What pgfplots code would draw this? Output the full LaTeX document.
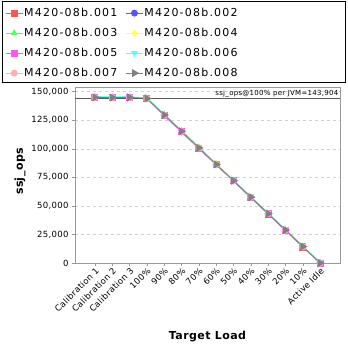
\documentclass[border=0pt]{standalone}
\usepackage{fontspec}
\setmainfont{DejaVu Sans}[LetterSpace=4]
\newfontfamily\legfont{DejaVu Sans}[LetterSpace=11]
\usepackage{pgfplots}
\pgfplotsset{compat=1.18}
\definecolor{c1}{HTML}{FF5555}
\definecolor{c2}{HTML}{5555FF}
\definecolor{c3}{HTML}{55FF55}
\definecolor{c4}{HTML}{FFFF55}
\definecolor{c5}{HTML}{FF55FF}
\definecolor{c6}{HTML}{55FFFF}
\definecolor{c7}{HTML}{FFAFAF}
\definecolor{c8}{HTML}{808080}
\begin{document}
\begin{tikzpicture}
\useasboundingbox (-75pt,-85pt) rectangle (273pt,263pt);
\begin{axis}[
  scale only axis, width=265pt, height=176pt,
  xmin=-1.15, xmax=14.15, ymin=0, ymax=154000,
  xtick={0,...,13},
  xticklabels={Calibration 1,Calibration 2,Calibration 3,100\%,90\%,80\%,70\%,60\%,50\%,40\%,30\%,20\%,10\%,Active Idle},
  x tick label style={rotate=45, anchor=north east, font=\fontsize{8.5}{9}\selectfont, inner sep=0.5pt},
  ytick={0,25000,50000,75000,100000,125000,150000},
  yticklabels={0,{25,000},{50,000},{75,000},{100,000},{125,000},{150,000}},
  scaled y ticks=false,
  y tick label style={font=\fontsize{8.5}{10}\selectfont},
  ymajorgrids, grid style={dashed, gray!35},
  axis line style={gray!80},
  tick style={gray!80, thin},
  tick align=outside, major tick length=3pt,
  xtick pos=bottom, ytick pos=left,
  xlabel={\bfseries Target Load}, ylabel={\bfseries ssj\_ops},
  xlabel style={font=\fontsize{11}{13}\selectfont, at={(axis description cs:0.5,-0.415)}, anchor=center},
  ylabel style={font=\fontsize{11}{13}\selectfont, at={(axis description cs:-0.2075,0.52)}, anchor=center},
  legend columns=2,
  legend style={at={(axis description cs:-0.264,1.455)}, anchor=north west, draw=none, fill=none,
    font=\legfont\fontsize{11}{12}\selectfont, row sep=8pt, inner sep=0pt,
    nodes={inner sep=1pt, text height=8pt, text depth=2pt},
    /tikz/every even column/.append style={column sep=7pt}},
  legend cell align=left,
  every axis plot/.append style={line width=0.9pt, mark size=3pt},
]
\addplot[c1, mark=square*] coordinates {(0,144900)(1,144700)(2,144800)(3,143700)(4,129200)(5,114900)(6,100500)(7,86100)(8,72200)(9,57400)(10,42900)(11,28600)(12,13900)(13,0)};
\addplot[c2, mark=*] coordinates {(0,145100)(1,144800)(2,144900)(3,143900)(4,129000)(5,114700)(6,100300)(7,86000)(8,71900)(9,57300)(10,43100)(11,28700)(12,14300)(13,0)};
\addplot[c3, mark=triangle*] coordinates {(0,145300)(1,145200)(2,145100)(3,144300)(4,130300)(5,115900)(6,101300)(7,86800)(8,72300)(9,57000)(10,43000)(11,29300)(12,14500)(13,0)};
\addplot[c4, mark=diamond*] coordinates {(0,145000)(1,144900)(2,144700)(3,144000)(4,129700)(5,115300)(6,100900)(7,86900)(8,72100)(9,57700)(10,43300)(11,28900)(12,14400)(13,0)};
\addplot[c5, mark=square*] coordinates {(0,144600)(1,144600)(2,144500)(3,143800)(4,129300)(5,114800)(6,100400)(7,86200)(8,71800)(9,57500)(10,43100)(11,28500)(12,14200)(13,0)};
\addplot[c6, mark=triangle*, mark options={rotate=180}] coordinates {(0,145500)(1,145300)(2,145400)(3,144400)(4,129900)(5,115500)(6,101200)(7,86500)(8,72300)(9,58300)(10,43900)(11,29400)(12,15000)(13,400)};
\addplot[c7, mark=*] coordinates {(0,144800)(1,144700)(2,144600)(3,143700)(4,129400)(5,115000)(6,100600)(7,86200)(8,72000)(9,57600)(10,43200)(11,28800)(12,14100)(13,0)};
\addplot[c8, mark=triangle*, mark size=3.8pt, mark options={rotate=-90}] coordinates {(0,144900)(1,144800)(2,144900)(3,143904)(4,129500)(5,115200)(6,100700)(7,86300)(8,72000)(9,57600)(10,43200)(11,28800)(12,14400)(13,0)};
\legend{M420-08b.001,M420-08b.002,M420-08b.003,M420-08b.004,M420-08b.005,M420-08b.006,M420-08b.007,M420-08b.008}
\addplot[gray!70!black, line width=0.8pt, mark=none, forget plot] coordinates {(-1.15,143904) (14.15,143904)};
\node[anchor=south east, font=\fontsize{7}{8}\selectfont, inner sep=1.5pt] at (axis cs:14.15,143904) {ssj\_ops@100\% per JVM=143,904};
\end{axis}
\draw[black, line width=0.8pt] (-73pt,181pt) rectangle (270pt,262pt);
\end{tikzpicture}
\end{document}
